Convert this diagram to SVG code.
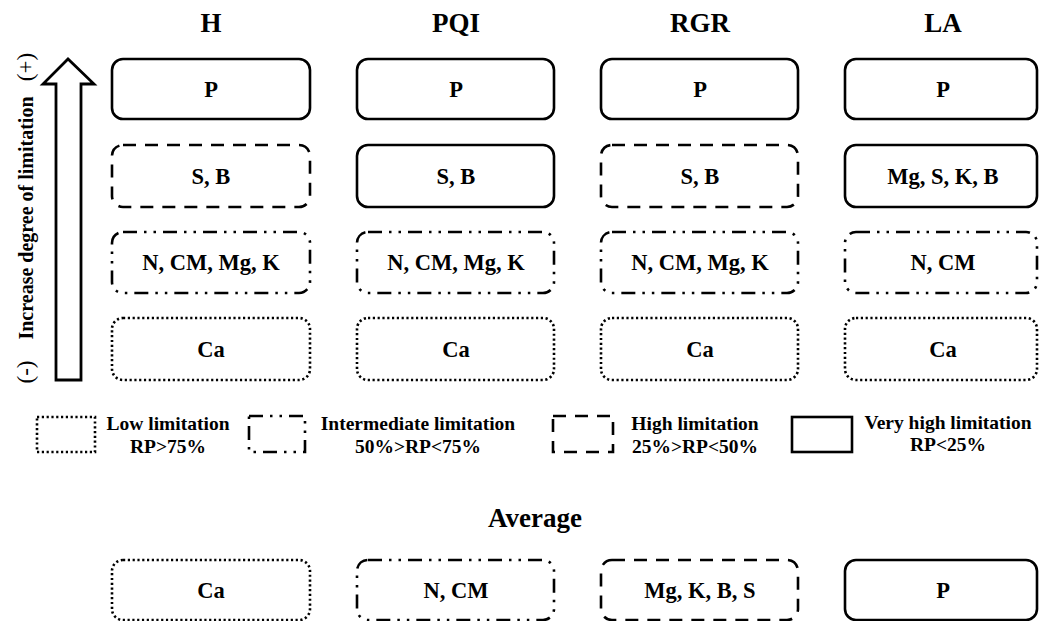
<svg xmlns="http://www.w3.org/2000/svg" width="1039" height="621" viewBox="0 0 1039 621">
<style>
text{font-family:"Liberation Serif","Times New Roman",serif;font-weight:bold;fill:#000;text-anchor:middle}
.t{font-size:27px}
.b{font-size:22.5px}
.l{font-size:19.5px}
.ax{font-size:20px}
.pm{font-size:23px;font-weight:normal}
.box{fill:#fff;stroke:#000;stroke-width:2.6}
.hi{stroke-dasharray:13 9}
.im{stroke-dasharray:14 7 2.5 7 2.5 7}
.lo{stroke-dasharray:2.2 2.6;stroke-width:2.6}
</style>
<rect width="1039" height="621" fill="#fff"/>
<g id="titles">
<text class="t" x="211" y="32">H</text>
<text class="t" x="456" y="32">PQI</text>
<text class="t" x="700" y="32">RGR</text>
<text class="t" x="943" y="32">LA</text>
<text class="t" x="535" y="527">Average</text>
</g>
<g id="axis">
<path d="M56,380 L56,84 L43,84 L68,59 L94,84 L81,84 L81,380 Z" fill="#fff" stroke="#000" stroke-width="2.8"/>
<text class="ax" transform="translate(33,218) rotate(-90)">Increase degree of limitation</text>
<text class="pm" transform="translate(33,67) rotate(-90)">(+)</text>
<text class="pm" transform="translate(33,372) rotate(-90)">(-)</text>
</g>
<g id="H">
<rect class="box" x="112" y="59" width="198" height="60" rx="11"/><text class="b" x="211" y="97">P</text>
<rect class="box hi" x="112" y="145" width="198" height="62" rx="11"/><text class="b" x="211" y="184">S, B</text>
<rect class="box im" x="112" y="232" width="198" height="61" rx="11"/><text class="b" x="211" y="270">N, CM, Mg, K</text>
<rect class="box lo" x="112" y="318" width="198" height="62" rx="11"/><text class="b" x="211" y="357">Ca</text>
</g>
<g id="PQI">
<rect class="box" x="357" y="59" width="197" height="60" rx="11"/><text class="b" x="456" y="97">P</text>
<rect class="box" x="357" y="145" width="197" height="62" rx="11"/><text class="b" x="456" y="184">S, B</text>
<rect class="box im" x="357" y="232" width="197" height="61" rx="11"/><text class="b" x="456" y="270">N, CM, Mg, K</text>
<rect class="box lo" x="357" y="318" width="197" height="62" rx="11"/><text class="b" x="456" y="357">Ca</text>
</g>
<g id="RGR">
<rect class="box" x="601" y="59" width="197" height="60" rx="11"/><text class="b" x="700" y="97">P</text>
<rect class="box hi" x="601" y="145" width="197" height="62" rx="11"/><text class="b" x="700" y="184">S, B</text>
<rect class="box im" x="601" y="232" width="197" height="61" rx="11"/><text class="b" x="700" y="270">N, CM, Mg, K</text>
<rect class="box lo" x="601" y="318" width="197" height="62" rx="11"/><text class="b" x="700" y="357">Ca</text>
</g>
<g id="LA">
<rect class="box" x="845" y="59" width="192" height="60" rx="11"/><text class="b" x="943" y="97">P</text>
<rect class="box" x="845" y="145" width="192" height="62" rx="11"/><text class="b" x="943" y="184">Mg, S, K, B</text>
<rect class="box im" x="845" y="232" width="192" height="61" rx="11"/><text class="b" x="943" y="270">N, CM</text>
<rect class="box lo" x="845" y="318" width="192" height="62" rx="11"/><text class="b" x="943" y="357">Ca</text>
</g>
<g id="legend">
<rect class="box lo" x="37" y="417" width="58" height="35"/>
<text class="l" x="168" y="430">Low limitation</text><text class="l" x="168" y="453">RP&gt;75%</text>
<rect class="box im" x="249" y="416" width="56" height="36"/>
<text class="l" x="418" y="430">Intermediate limitation</text><text class="l" x="418" y="453">50%&gt;RP&lt;75%</text>
<rect class="box hi" x="553" y="416" width="60" height="36"/>
<text class="l" x="695" y="430">High limitation</text><text class="l" x="695" y="453">25%&gt;RP&lt;50%</text>
<rect class="box" x="792" y="417" width="60" height="35"/>
<text class="l" x="948" y="429">Very high limitation</text><text class="l" x="948" y="451">RP&lt;25%</text>
</g>
<g id="average">
<rect class="box lo" x="112" y="560" width="198" height="60" rx="11"/><text class="b" x="211" y="598">Ca</text>
<rect class="box im" x="357" y="560" width="197" height="60" rx="11"/><text class="b" x="456" y="598">N, CM</text>
<rect class="box hi" x="601" y="560" width="197" height="60" rx="11"/><text class="b" x="700" y="598">Mg, K, B, S</text>
<rect class="box" x="845" y="560" width="192" height="60" rx="11"/><text class="b" x="943" y="598">P</text>
</g>
</svg>
